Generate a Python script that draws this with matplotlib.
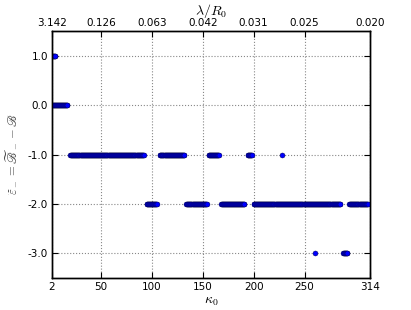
import numpy as np
import matplotlib
matplotlib.use("Agg")
import matplotlib.pyplot as plt

plt.rcParams['mathtext.fontset'] = 'cm'
plt.rcParams['font.size'] = 7.5

# kappa_0 runs (first, last) and the epsilon value on each run
seg_start = [2, 2, 20, 95, 108, 134, 156, 168, 194, 200, 228, 294, 260, 288]
seg_end   = [5, 17, 92, 105, 132, 154, 166, 191, 198, 285, 228, 312, 260, 292]
seg_value = [1.0, 0.0, -1.0, -2.0, -1.0, -2.0, -1.0, -2.0, -1.0, -2.0, -1.0, -2.0, -3.0, -3.0]
kappa_step = 0.5

x_ticks = [2, 50, 100, 150, 200, 250, 314]
top_labels = ['3.142', '0.126', '0.063', '0.042', '0.031', '0.025', '0.020']
y_ticks = [1.0, 0.0, -1.0, -2.0, -3.0]

fig = plt.figure(figsize=(4.11, 3.10), dpi=100)
ax = fig.add_axes([0.1265, 0.103, 0.773, 0.797])

for s, e, v in zip(seg_start, seg_end, seg_value):
    k = np.arange(s, e + kappa_step / 2, kappa_step)
    ax.plot(k, np.full(len(k), v), 'o', color='b', markersize=3.6,
            markeredgecolor='#000040', markeredgewidth=0.3, zorder=3)

ax.set_xlim(2, 314)
ax.set_ylim(-3.5, 1.5)
ax.set_xticks(x_ticks)
ax.set_yticks(y_ticks)
ax.set_yticklabels(['%.1f' % y for y in y_ticks])
ax.grid(True, linestyle=':', color='#888888', linewidth=0.8)
ax.tick_params(direction='in', length=4, top=False, right=True, pad=3)
ax.set_xlabel(r'$\kappa_0$', fontsize=10, labelpad=1)
ax.set_ylabel(r'$\widetilde{\varepsilon}_- = \widetilde{\mathscr{B}}_- - \mathscr{B}$',
              fontsize=9, color='#444444', labelpad=6)

ax2 = ax.twiny()
ax2.set_xlim(ax.get_xlim())
ax2.set_xticks(x_ticks)
ax2.set_xticklabels(top_labels)
ax2.tick_params(direction='in', length=4, pad=2)
ax2.set_xlabel(r'$\lambda/R_0$', fontsize=10, labelpad=2)

for a in (ax, ax2):
    for sp in a.spines.values():
        sp.set_linewidth(1.0)

fig.savefig('out.png', dpi=100)
